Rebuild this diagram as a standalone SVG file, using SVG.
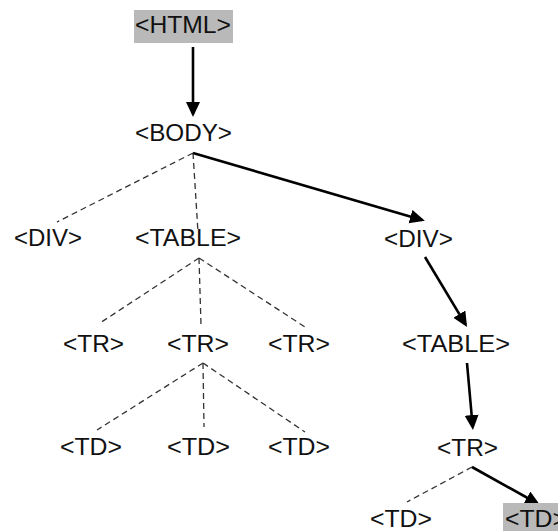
<svg xmlns="http://www.w3.org/2000/svg" width="558" height="531" viewBox="0 0 558 531">
  <style>
    .lbl { font-family: "Liberation Sans", Arial, sans-serif; font-size: 24px; fill: #111; }
    .hl { fill: #b9b9b9; }
    .solid { stroke: #000; stroke-width: 2.6; fill: none; }
    .dash { stroke: #333; stroke-width: 1.3; stroke-dasharray: 6 4; fill: none; }
  </style>
  <defs>
    <marker id="arrow" markerUnits="userSpaceOnUse" markerWidth="16" markerHeight="15" refX="12" refY="7" orient="auto">
      <path d="M0,0 L15,7 L0,14 z" fill="#000"/>
    </marker>
  </defs>
  <rect width="558" height="531" fill="#fff"/>

  <!-- tree edges: dashed = untraversed, solid = path taken -->
  <g id="connectors">
    <line class="dash" x1="193" y1="153" x2="57" y2="222"/>
    <line class="dash" x1="193" y1="153" x2="198" y2="232"/>
    <line class="dash" x1="199" y1="258" x2="100" y2="323"/>
    <line class="dash" x1="199" y1="258" x2="201" y2="325"/>
    <line class="dash" x1="199" y1="258" x2="305" y2="327"/>
    <line class="dash" x1="203" y1="363" x2="97" y2="430"/>
    <line class="dash" x1="203" y1="363" x2="204" y2="427"/>
    <line class="dash" x1="203" y1="363" x2="305" y2="432"/>
    <line class="dash" x1="472" y1="467" x2="407" y2="502"/>

    <line class="solid" x1="193" y1="47" x2="193" y2="114" marker-end="url(#arrow)"/>
    <line class="solid" x1="193" y1="153" x2="422" y2="220" marker-end="url(#arrow)"/>
    <line class="solid" x1="425" y1="257" x2="465.5" y2="324.4" marker-end="url(#arrow)"/>
    <line class="solid" x1="467" y1="363" x2="472.7" y2="427" marker-end="url(#arrow)"/>
    <line class="solid" x1="472" y1="467" x2="537.4" y2="503.5" marker-end="url(#arrow)"/>
  </g>

  <g id="html">
    <rect class="hl" x="134" y="10" width="99" height="33"/>
    <text class="lbl" x="135" y="33" textLength="96" lengthAdjust="spacingAndGlyphs">&lt;HTML&gt;</text>
  </g>
  <g id="body">
    <text class="lbl" x="135" y="141" textLength="97" lengthAdjust="spacingAndGlyphs">&lt;BODY&gt;</text>
  </g>
  <g id="div1">
    <text class="lbl" x="14" y="246" textLength="68" lengthAdjust="spacingAndGlyphs">&lt;DIV&gt;</text>
  </g>
  <g id="table1">
    <text class="lbl" x="135" y="246" textLength="106" lengthAdjust="spacingAndGlyphs">&lt;TABLE&gt;</text>
  </g>
  <g id="div2">
    <text class="lbl" x="384" y="247" textLength="69" lengthAdjust="spacingAndGlyphs">&lt;DIV&gt;</text>
  </g>
  <g id="tr1">
    <text class="lbl" x="63" y="352" textLength="61" lengthAdjust="spacingAndGlyphs">&lt;TR&gt;</text>
  </g>
  <g id="tr2">
    <text class="lbl" x="167" y="352" textLength="62" lengthAdjust="spacingAndGlyphs">&lt;TR&gt;</text>
  </g>
  <g id="tr3">
    <text class="lbl" x="268" y="352" textLength="62" lengthAdjust="spacingAndGlyphs">&lt;TR&gt;</text>
  </g>
  <g id="table2">
    <text class="lbl" x="402" y="352" textLength="108" lengthAdjust="spacingAndGlyphs">&lt;TABLE&gt;</text>
  </g>
  <g id="td1">
    <text class="lbl" x="60" y="455" textLength="62" lengthAdjust="spacingAndGlyphs">&lt;TD&gt;</text>
  </g>
  <g id="td2">
    <text class="lbl" x="167" y="455" textLength="63" lengthAdjust="spacingAndGlyphs">&lt;TD&gt;</text>
  </g>
  <g id="td3">
    <text class="lbl" x="268" y="455" textLength="62" lengthAdjust="spacingAndGlyphs">&lt;TD&gt;</text>
  </g>
  <g id="tr4">
    <text class="lbl" x="437" y="456" textLength="61" lengthAdjust="spacingAndGlyphs">&lt;TR&gt;</text>
  </g>
  <g id="td4">
    <text class="lbl" x="370" y="527" textLength="62" lengthAdjust="spacingAndGlyphs">&lt;TD&gt;</text>
  </g>
  <g id="td5">
    <rect class="hl" x="503" y="503" width="60" height="28"/>
    <text class="lbl" x="505" y="527" textLength="62" lengthAdjust="spacingAndGlyphs">&lt;TD&gt;</text>
  </g>
</svg>
